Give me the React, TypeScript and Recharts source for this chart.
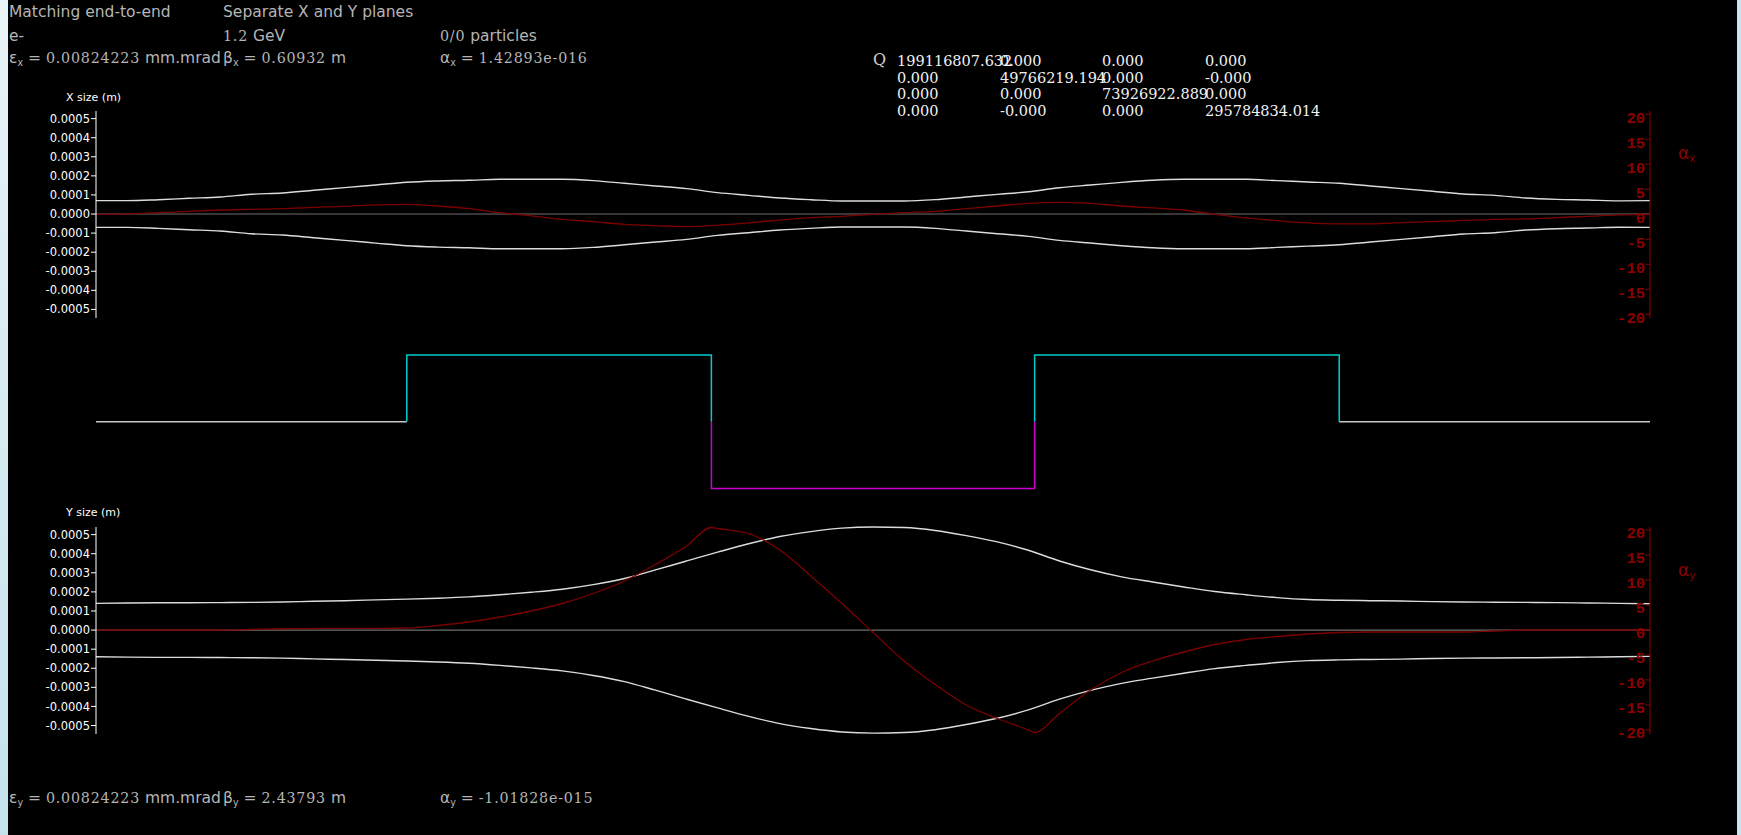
import { LineChart, Line, XAxis, YAxis, ReferenceLine } from "recharts"

// Position along the cell (m)
const sGrid = [
  0, 0.1, 0.2, 0.3, 0.4, 0.5, 0.6, 0.7, 0.8, 0.9, 1.0, 1.1, 1.2, 1.3, 1.4, 1.5, 1.6, 1.7, 1.8, 1.9, 2.0, 2.1, 2.2, 2.3,
  2.4, 2.5, 2.6, 2.7, 2.8, 2.9, 3.0, 3.1, 3.2, 3.3, 3.4, 3.5, 3.6, 3.7, 3.8, 3.9, 4.0, 4.1, 4.2, 4.3, 4.4, 4.5, 4.6,
  4.7, 4.8, 4.9, 5.0,
]

// Horizontal rms beam size (m)
const sigmaX = [
  0.00007, 0.00007, 0.0000751, 0.0000824, 0.0000893, 0.0001034, 0.0001103, 0.0001244, 0.0001381, 0.0001523,
  0.0001664, 0.0001733, 0.000177, 0.000182, 0.0001822, 0.000182, 0.000175, 0.000161, 0.000147, 0.000133, 0.000112,
  0.000098, 0.000084, 0.000075, 0.0000683, 0.0000683, 0.0000683, 0.0000752, 0.0000892, 0.0001032, 0.000117,
  0.000138, 0.000152, 0.000166, 0.000177, 0.000182, 0.0001822, 0.000182, 0.000175, 0.000168, 0.000161, 0.000147,
  0.000133, 0.000119, 0.000105, 0.000098, 0.000084, 0.000077, 0.0000735, 0.000069, 0.00007,
]

const alphaX = [
  0, 0.05, 0.33, 0.6, 0.86, 1.0, 1.13, 1.4, 1.6, 1.9, 2.0, 1.66, 1.13, 0.33, -0.3, -1.0, -1.47, -2.0, -2.27, -2.47,
  -2.2, -1.7, -1.15, -0.67, -0.4, 0, 0.33, 0.6, 1.13, 1.66, 2.2, 2.4, 2.2, 1.66, 1.3, 0.86, 0, -0.73, -1.27, -1.73,
  -1.93, -1.93, -1.67, -1.47, -1.2, -1.0, -0.93, -0.67, -0.4, -0.13, 0,
]

// Vertical rms beam size (m)
const sigmaY = [
  0.00014, 0.000142, 0.000143, 0.000143, 0.000144, 0.000145, 0.000147, 0.000151, 0.000154, 0.000158, 0.000162,
  0.000167, 0.000174, 0.000185, 0.000198, 0.000214, 0.000238, 0.00027, 0.000315, 0.000362, 0.000408, 0.000452,
  0.00049, 0.000516, 0.000534, 0.00054, 0.000537, 0.000522, 0.000495, 0.000462, 0.000418, 0.000362, 0.000316,
  0.000279, 0.000252, 0.000226, 0.000202, 0.000185, 0.00017, 0.00016, 0.000156, 0.000154, 0.000152, 0.000149,
  0.000147, 0.000146, 0.000145, 0.000144, 0.000142, 0.00014, 0.000138,
]

// alpha_y is sampled on the grid plus both edges of the defocusing quad
const sAlphaY = [
  0, 0.1, 0.2, 0.3, 0.4, 0.5, 0.6, 0.7, 0.8, 0.9, 1.0, 1.1, 1.2, 1.3, 1.4, 1.5, 1.6, 1.7, 1.8, 1.9, 1.98, 2.0, 2.1,
  2.2, 2.3, 2.4, 2.5, 2.6, 2.7, 2.8, 2.9, 3.0, 3.02, 3.1, 3.2, 3.3, 3.4, 3.5, 3.6, 3.7, 3.8, 3.9, 4.0, 4.1, 4.2, 4.3,
  4.4, 4.5, 4.6, 4.7, 4.8, 4.9, 5.0,
]
const alphaY = [
  0, 0, 0, 0, 0, 0.1, 0.25, 0.3, 0.33, 0.33, 0.4, 0.9, 1.6, 2.6, 3.8, 5.3, 7.3, 9.8, 13.1, 16.8, 20.5, 20.3, 19.3,
  16.0, 10.8, 5.3, -0.5, -6.2, -10.9, -15.0, -17.7, -20.0, -20.5, -16.7, -12.0, -8.5, -6.2, -4.4, -2.9, -1.9, -1.3,
  -0.8, -0.5, -0.4, -0.4, -0.4, -0.4, -0.2, 0, 0, 0, 0, 0,
]

// Lattice layout
const drifts = [
  [0, 1],
  [4, 5],
]
const quads = [
  { start: 1, end: 1.98, k: 1 },
  { start: 1.98, end: 3.02, k: -1 },
  { start: 3.02, end: 4, k: 1 },
]

const sizeTicks = [0.0005, 0.0004, 0.0003, 0.0002, 0.0001, 0, -0.0001, -0.0002, -0.0003, -0.0004, -0.0005]
const alphaTicks = [20, 15, 10, 5, 0, -5, -10, -15, -20]

const qMatrix = [
  ["199116807.632", "0.000", "0.000", "0.000"],
  ["0.000", "49766219.194", "0.000", "-0.000"],
  ["0.000", "0.000", "73926922.889", "0.000"],
  ["0.000", "-0.000", "0.000", "295784834.014"],
]
const qCols = [897, 1000, 1102, 1205]
const qRows = [54, 71, 87, 104]

const W = 1741
const H = 835
const plotLeft = 96
const plotRight = 1650
const WHITE = "#dcdcdc"
const DARK_RED = "#7c0000"
const AXIS_RED = "#8b0000"
const HEADER = "#b5b5b5"

function AlphaTick(props: any) {
  const { x, y, payload } = props
  return (
    <text
      x={x}
      y={y + 3}
      dy="0.35em"
      textAnchor="end"
      fill={AXIS_RED}
      fontFamily="Liberation Mono"
      fontWeight="bold"
      fontSize={15.5}
    >
      {payload.value}
    </text>
  )
}

interface PanelProps {
  top: number
  height: number
  plotTop: number
  plotBottom: number
  sigma: number[]
  alphaS: number[]
  alpha: number[]
  sizeDomain: [number, number]
  alphaDomain: [number, number]
}

function BeamPanel({ top, height, plotTop, plotBottom, sigma, alphaS, alpha, sizeDomain, alphaDomain }: PanelProps) {
  const rows = sGrid.map((s, i) => ({ s, up: sigma[i], down: -sigma[i] }))
  const alphaRows = alphaS.map((s, i) => ({ s, a: alpha[i] }))
  return (
    <div style={{ position: "absolute", left: 0, top }}>
      <LineChart
        width={W}
        height={height}
        data={rows}
        margin={{ top: plotTop - top, right: W - plotRight, bottom: top + height - plotBottom, left: plotLeft - 60 }}
      >
        <XAxis dataKey="s" type="number" domain={[0, 5]} hide />
        <YAxis
          yAxisId="size"
          width={60}
          domain={sizeDomain}
          ticks={sizeTicks}
          interval={0}
          tickSize={5}
          tickMargin={1}
          stroke="#ffffff"
          tickFormatter={(v: number) => v.toFixed(4)}
          tick={{ fill: "#ffffff", fontSize: 11.5, fontFamily: "DejaVu Sans" }}
        />
        <YAxis
          yAxisId="alpha"
          orientation="right"
          mirror
          width={40}
          domain={alphaDomain}
          ticks={alphaTicks}
          interval={0}
          tickSize={5}
          tickMargin={0}
          stroke={AXIS_RED}
          tick={<AlphaTick />}
        />
        <ReferenceLine yAxisId="size" y={0} stroke="#6f6f6f" strokeWidth={1.2} />
        <Line yAxisId="size" dataKey="up" type="monotone" stroke={WHITE} strokeWidth={1.4} dot={false} activeDot={false} isAnimationActive={false} />
        <Line yAxisId="size" dataKey="down" type="monotone" stroke={WHITE} strokeWidth={1.4} dot={false} activeDot={false} isAnimationActive={false} />
        <Line
          yAxisId="alpha"
          data={alphaRows}
          dataKey="a"
          type="monotone"
          stroke={DARK_RED}
          strokeWidth={1.3}
          dot={false}
          activeDot={false}
          isAnimationActive={false}
        />
      </LineChart>
    </div>
  )
}

function LatticePanel() {
  const driftLines = drifts.map(([a, b]) => [
    { s: a, v: 0 },
    { s: b, v: 0 },
  ])
  const quadLines = quads.map((q) => [
    { s: q.start, v: 0 },
    { s: q.start, v: q.k },
    { s: q.end, v: q.k },
    { s: q.end, v: 0 },
  ])
  return (
    <div style={{ position: "absolute", left: 0, top: 330 }}>
      <LineChart width={W} height={180} margin={{ top: 12, right: W - plotRight, bottom: 8, left: plotLeft }}>
        <XAxis dataKey="s" type="number" domain={[0, 5]} hide />
        <YAxis type="number" domain={[-1.202, 1.195]} hide />
        {driftLines.map((d, i) => (
          <Line key={`drift-${i}`} data={d} dataKey="v" type="linear" stroke="#c8c8c8" strokeWidth={1.6} dot={false} activeDot={false} isAnimationActive={false} />
        ))}
        {quadLines.map((d, i) => (
          <Line
            key={`quad-${i}`}
            data={d}
            dataKey="v"
            type="linear"
            stroke={quads[i].k > 0 ? "#00cccc" : "#cc00cc"}
            strokeWidth={1.5}
            dot={false}
            activeDot={false}
            isAnimationActive={false}
          />
        ))}
      </LineChart>
    </div>
  )
}

function Sym({ base, sub }: { base: string; sub: string }) {
  return (
    <span>
      {base}
      <span style={{ fontSize: "0.62em", position: "relative", top: "0.3em" }}>{sub}</span>
    </span>
  )
}

function Txt({ x, y, children, style }: { x: number; y: number; children: any; style?: any }) {
  return <div style={{ position: "absolute", left: x, top: y, whiteSpace: "nowrap", lineHeight: 1, ...style }}>{children}</div>
}

const serif = { fontFamily: "DejaVu Serif", fontSize: "0.92em", letterSpacing: "0.8px" }

export default function App() {
  const header = { color: HEADER, fontSize: 15.5, fontFamily: "DejaVu Sans" }
  const matrix = { color: "#f2f2f2", fontSize: 14.5, fontFamily: "DejaVu Serif" }
  return (
    <div style={{ position: "fixed", left: 0, top: 0, width: W, height: H, background: "#000", overflow: "hidden" }}>
      <div style={{ position: "absolute", left: 0, top: 0, width: 8, height: H, background: "linear-gradient(#e9f4f8, #c4e2ec)" }} />
      <div style={{ position: "absolute", left: 1737, top: 0, width: 4, height: H, background: "#c8e5ef" }} />

      <Txt x={9} y={5} style={header}>Matching end-to-end</Txt>
      <Txt x={223} y={5} style={header}>Separate X and Y planes</Txt>
      <Txt x={9} y={29} style={header}>e-</Txt>
      <Txt x={223} y={29} style={header}>
        <span style={serif}>1.2</span> GeV
      </Txt>
      <Txt x={440} y={29} style={header}>
        <span style={serif}>0/0</span> particles
      </Txt>
      <Txt x={9} y={51} style={header}>
        <Sym base="ε" sub="x" /> = <span style={serif}>0.00824223</span> mm.mrad
      </Txt>
      <Txt x={223} y={51} style={header}>
        <Sym base="β" sub="x" /> = <span style={serif}>0.60932</span> m
      </Txt>
      <Txt x={440} y={51} style={header}>
        <Sym base="α" sub="x" /> = <span style={serif}>1.42893e-016</span>
      </Txt>

      <Txt x={873} y={52} style={{ ...matrix, color: "#d0d0d0", fontSize: 16 }}>Q</Txt>
      {qMatrix.map((row, r) =>
        row.map((cell, c) => (
          <Txt key={`q-${r}-${c}`} x={qCols[c]} y={qRows[r]} style={matrix}>
            {cell}
          </Txt>
        ))
      )}

      <Txt x={66} y={91.5} style={{ color: "#ffffff", fontSize: 11, fontFamily: "DejaVu Sans" }}>X size (m)</Txt>
      <Txt x={66} y={507} style={{ color: "#ffffff", fontSize: 11, fontFamily: "DejaVu Sans" }}>Y size (m)</Txt>
      <Txt x={1678} y={144.5} style={{ color: AXIS_RED, fontSize: 17, fontFamily: "DejaVu Sans" }}>
        <Sym base="α" sub="x" />
      </Txt>
      <Txt x={1678} y={561.5} style={{ color: AXIS_RED, fontSize: 17, fontFamily: "DejaVu Sans" }}>
        <Sym base="α" sub="y" />
      </Txt>

      <BeamPanel
        top={0}
        height={330}
        plotTop={111}
        plotBottom={318}
        sigma={sigmaX}
        alphaS={sGrid}
        alpha={alphaX}
        sizeDomain={[-0.000545, 0.00054]}
        alphaDomain={[-20.74, 20.66]}
      />
      <LatticePanel />
      <BeamPanel
        top={420}
        height={330}
        plotTop={527}
        plotBottom={734}
        sigma={sigmaY}
        alphaS={sAlphaY}
        alpha={alphaY}
        sizeDomain={[-0.0005445, 0.0005393]}
        alphaDomain={[-20.8, 20.6]}
      />

      <Txt x={9} y={791} style={header}>
        <Sym base="ε" sub="y" /> = <span style={serif}>0.00824223</span> mm.mrad
      </Txt>
      <Txt x={223} y={791} style={header}>
        <Sym base="β" sub="y" /> = <span style={serif}>2.43793</span> m
      </Txt>
      <Txt x={440} y={791} style={header}>
        <Sym base="α" sub="y" /> = <span style={serif}>-1.01828e-015</span>
      </Txt>
    </div>
  )
}
